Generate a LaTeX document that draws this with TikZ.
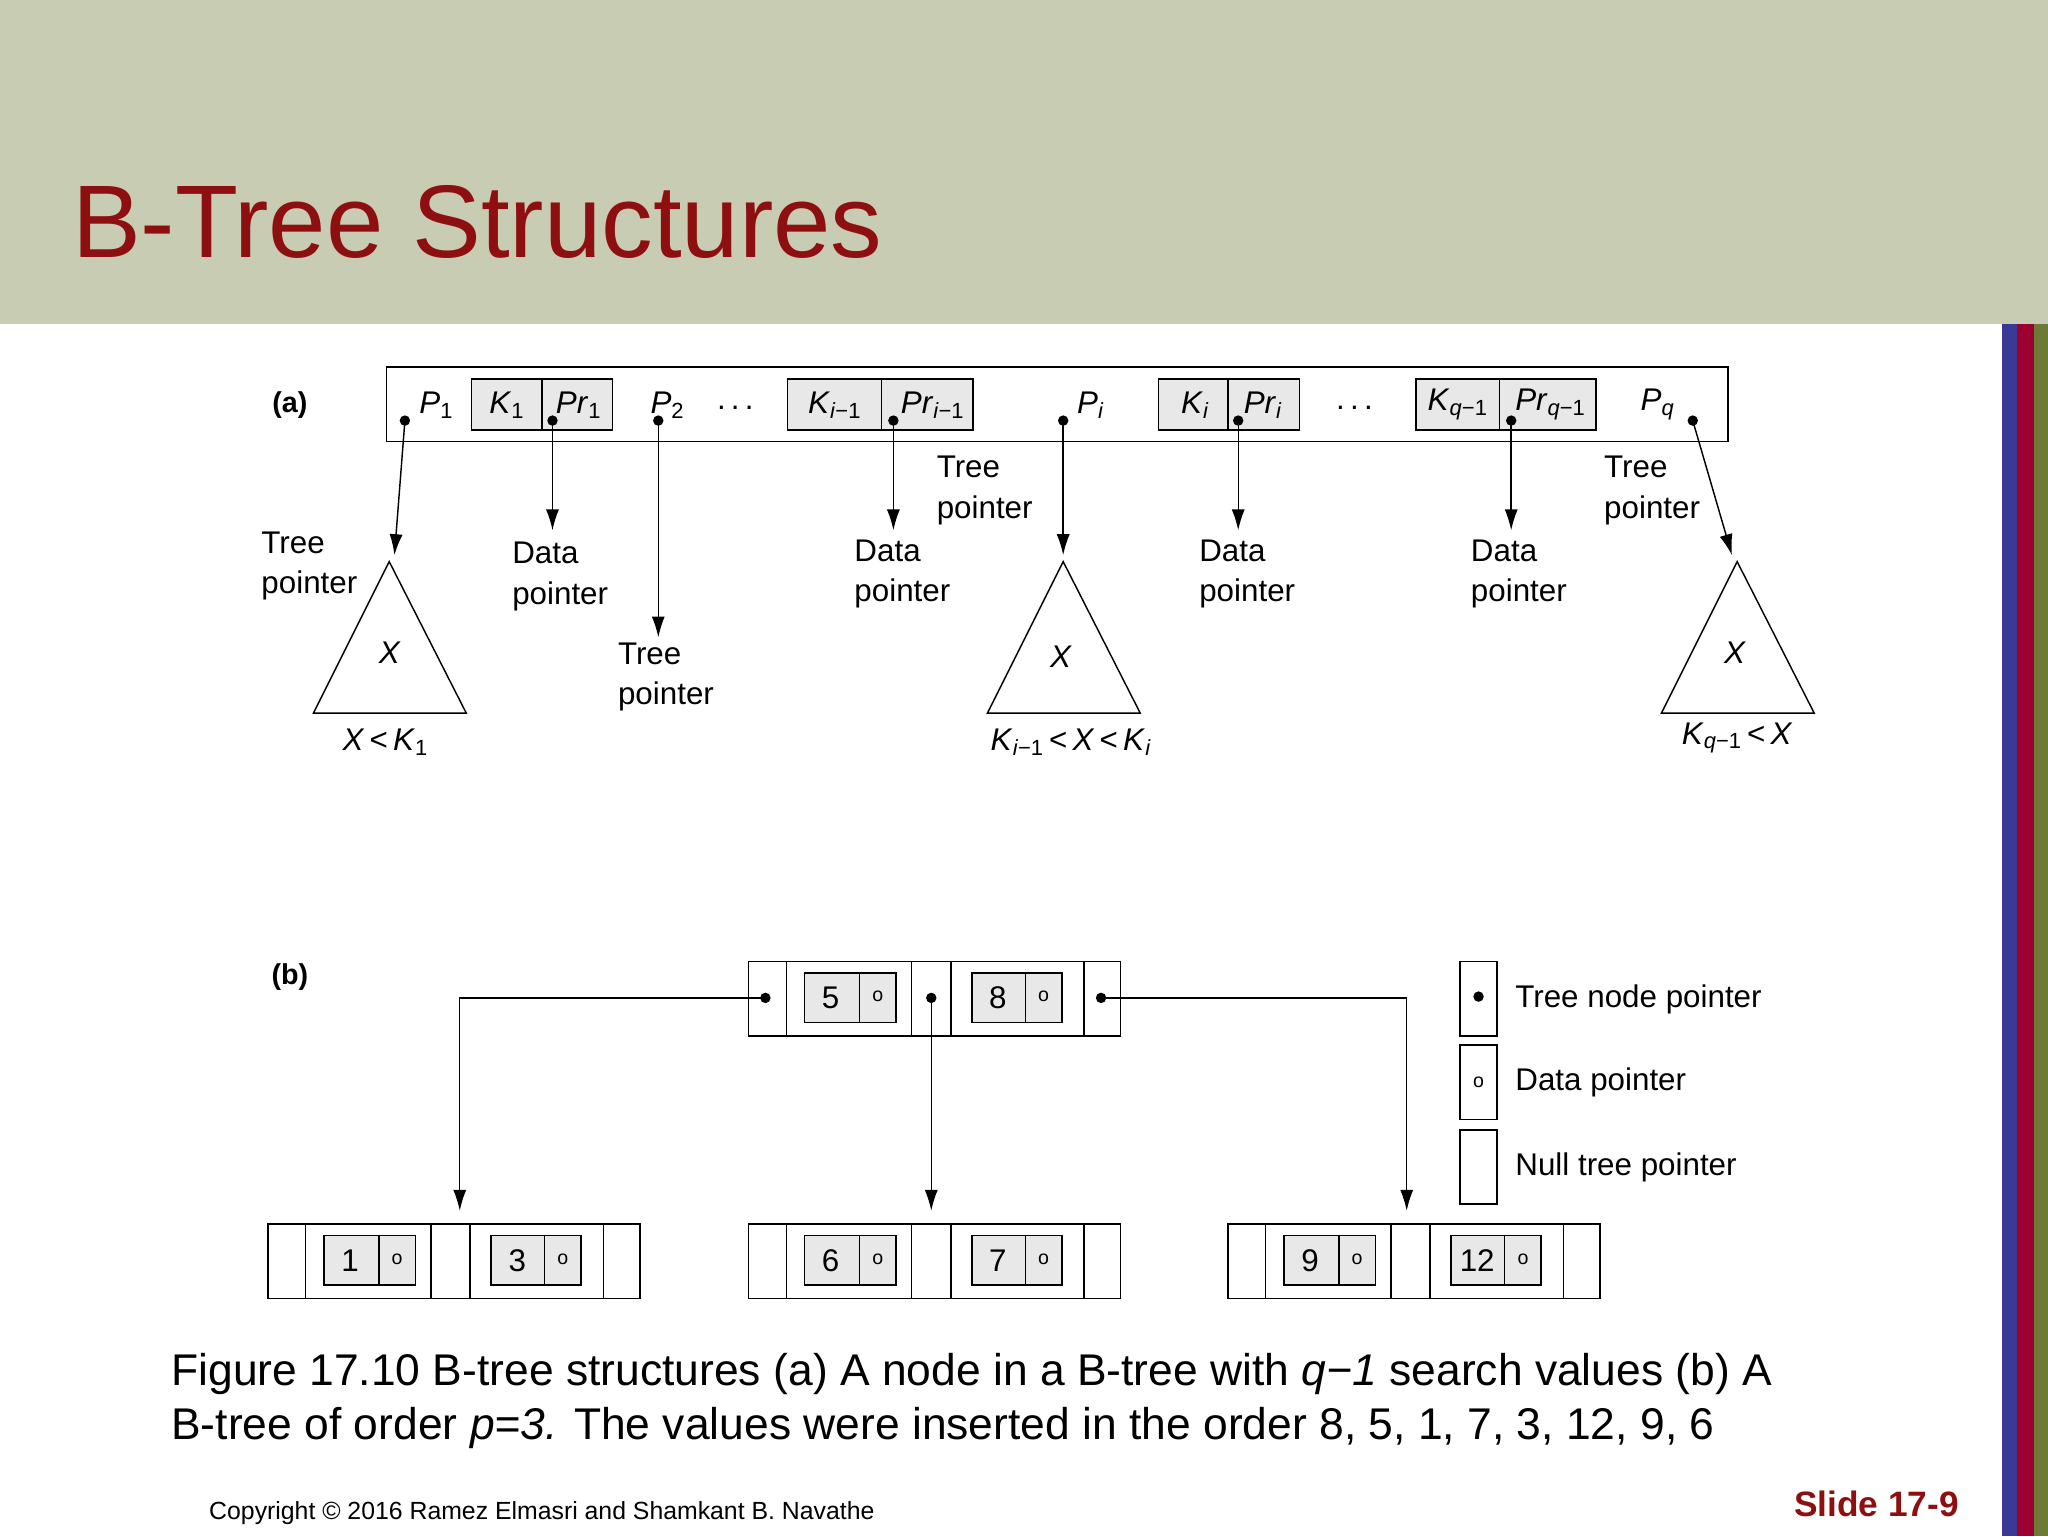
\documentclass[tikz,border=0pt]{standalone}
\usepackage{fontspec}
\setmainfont{Liberation Sans}
\usetikzlibrary{arrows.meta}
\definecolor{banner}{HTML}{C8CCB2}
\definecolor{dred}{HTML}{8E0F0F}
\definecolor{keyfill}{HTML}{E8E8E8}
\definecolor{barb}{HTML}{3A3A96}
\definecolor{barr}{HTML}{9B0030}
\definecolor{barg}{HTML}{6B7A35}
\newcommand{\ks}[2]{\textit{#1}\textsubscript{#2}}
\newcommand{\bnode}[5]{% x0 y0 k1 k2 name
  \draw[boxb] (#1,#2) rectangle (#1+285,#2+57);
  \foreach \d in {29,125,155,257} \draw[line width=1.2] (#1+\d,#2)--(#1+\d,#2+57);
  \draw[keyb] (#1+43,#2+9) rectangle (#1+113,#2+47); \draw[line width=1.2] (#1+85,#2+9)--(#1+85,#2+47);
  \draw[keyb] (#1+171,#2+9) rectangle (#1+240,#2+47); \draw[line width=1.2] (#1+212,#2+9)--(#1+212,#2+47);
  \node[big] (#5a) at (#1+63,#2+28) {#3};
  \node[big] (#5b) at (#1+191,#2+28) {#4};
  \node[font=\fontsize{15}{18}\selectfont,inner sep=0] (#5c) at (#1+99,#2+27) {o};
  \node[font=\fontsize{15}{18}\selectfont,inner sep=0] (#5d) at (#1+226,#2+27) {o};
}
\begin{document}
\begin{tikzpicture}[x=1pt,y=-1pt,
  lbl/.style={font=\fontsize{24}{31}\selectfont,align=left,anchor=north west,inner sep=0},
  big/.style={font=\fontsize{24}{28}\selectfont,inner sep=0},
  keyb/.style={draw,fill=keyfill,line width=1.2},
  boxb/.style={draw,line width=1.2},
  dotp/.style={circle,fill=black,inner sep=0,minimum size=8},
  arr/.style={line width=1.1,-{Latex[length=16,width=10]}}]
\useasboundingbox (0,0) rectangle (1568,1176);
\fill[banner] (0,0) rectangle (1568,248);
\fill[white] (0,248) rectangle (1533,1176);
\fill[barb] (1533,248) rectangle (1544,1176);
\fill[barr] (1544,248) rectangle (1557,1176);
\fill[barg] (1557,248) rectangle (1568,1176);
\node[anchor=base west,inner sep=0,text=dred,font=\fontsize{79}{90}\selectfont] (title) at (55,197) {B-Tree Structures};
% (a)
\node[font=\fontsize{22}{26}\selectfont\bfseries] (la) at (222,310) {(a)};
\draw[boxb] (296,281) rectangle (1323,338);
\foreach \a/\m/\b in {361/415/469,603/675/745,887/940/995,1084/1148/1222}{
  \draw[keyb] (\a,290) rectangle (\b,329); \draw[line width=1.2] (\m,290)--(\m,329);}
\node[big] (k1) at (388,310) {\ks{K}{1}};
\node[big] (pr1) at (443,310) {\ks{Pr}{1}};
\node[big] (ki1) at (639,310) {\ks{K}{\textit{i}−1}};
\node[big] (pri1) at (714,310) {\ks{Pr}{\textit{i}−1}};
\node[big] (ki) at (915,310) {\ks{K}{\textit{i}}};
\node[big] (pri) at (967,310) {\ks{Pr}{\textit{i}}};
\node[big] (kq) at (1116,310) {\ks{K}{\textit{q}−1}};
\node[big] (prq) at (1187,310) {\ks{Pr}{\textit{q}−1}};
\node[big] (p1) at (334,310) {\ks{P}{1}};
\node[big] (p2) at (511,310) {\ks{P}{2}};
\node[big] (pi) at (835,310) {\ks{P}{\textit{i}}};
\node[big] (pq) at (1269,310) {\ks{P}{\textit{q}}};
\node[big] (d1) at (563,312) {.\,.\,.};
\node[big] (d2) at (1037,312) {.\,.\,.};
\foreach \n/\x in {a1/310,a2/423,a3/504,a4/684,a5/814,a6/948,a7/1157,a8/1296}
  \node[dotp] (\n) at (\x,322) {};
\coordinate (t1) at (302,425); \coordinate (t2) at (423,406); \coordinate (t3) at (504,488);
\coordinate (t4) at (684,406); \coordinate (t5) at (814,425); \coordinate (t6) at (948,406);
\coordinate (t7) at (1157,406); \coordinate (t8) at (1326,425);
\foreach \i in {1,...,8} \draw[arr] (a\i.center) -- (t\i);
\foreach \x in {298,814,1330}
  \draw[line width=1.1] (\x,430) -- (\x-58,546) -- (\x+59,546) -- cycle;
\node[big,font=\fontsize{24}{28}\selectfont\itshape] (xa) at (298,500) {X};
\node[big,font=\fontsize{24}{28}\selectfont\itshape] (xb) at (812,503) {X};
\node[big,font=\fontsize{24}{28}\selectfont\itshape] (xc) at (1328,500) {X};
\node[big] (ca) at (295,568) {\textit{X}\,<\,\ks{K}{1}};
\node[big] (cb) at (820,568) {\ks{K}{\textit{i}−1}\,<\,\textit{X}\,<\,\ks{K}{\textit{i}}};
\node[big] (cc) at (1330,565) {\ks{K}{\textit{q}−1}\,<\,\textit{X}};
\node[lbl] (l1) at (200,407) {Tree\\pointer};
\node[lbl] (l2) at (392,415) {Data\\pointer};
\node[lbl] (l3) at (473,492) {Tree\\pointer};
\node[lbl] (l4) at (654,413) {Data\\pointer};
\node[lbl] (l5) at (717,349) {Tree\\pointer};
\node[lbl] (l6) at (918,413) {Data\\pointer};
\node[lbl] (l7) at (1126,413) {Data\\pointer};
\node[lbl] (l8) at (1228,349) {Tree\\pointer};
% (b)
\node[font=\fontsize{22}{26}\selectfont\bfseries] (lb) at (222,748) {(b)};
\bnode{573}{736}{5}{8}{r}
\bnode{205}{937}{1}{3}{la}
\bnode{573}{937}{6}{7}{lm}
\bnode{940}{937}{9}{12}{lr}
\node[dotp] (b1) at (586,764) {};
\node[dotp] (b2) at (713,764) {};
\node[dotp] (b3) at (843,764) {};
\coordinate (e1) at (352,927); \coordinate (e2) at (713,927); \coordinate (e3) at (1077,927);
\draw[arr] (b1.center) -| (e1);
\draw[arr] (b2.center) -- (e2);
\draw[arr] (b3.center) -| (e3);
\draw[boxb] (1118,736) rectangle (1146,793);
\draw[boxb] (1118,800) rectangle (1146,857);
\draw[boxb] (1118,865) rectangle (1146,922);
\node[dotp] (g1) at (1132,763) {};
\node[font=\fontsize{15}{18}\selectfont,inner sep=0] (g2) at (1132,829) {o};
\node[lbl,anchor=west] (t_a) at (1160,765) {Tree node pointer};
\node[lbl,anchor=west] (t_b) at (1160,829) {Data pointer};
\node[lbl,anchor=west] (t_c) at (1160,894) {Null tree pointer};
% caption
\node[anchor=base west,inner sep=0,align=left,font=\fontsize{34}{41}\selectfont] (cap) at (131,1102)
 {Figure 17.10 B-tree structures (a) A node in a B-tree with \textit{q−1} search values (b) A\\
  B-tree of order \textit{p=3.} The values were inserted in the order 8, 5, 1, 7, 3, 12, 9, 6};
\node[anchor=base west,inner sep=0,font=\fontsize{19}{22}\selectfont] (copy) at (160,1163) {Copyright © 2016 Ramez Elmasri and Shamkant B. Navathe};
\node[anchor=base east,inner sep=0,text=dred,font=\fontsize{27}{30}\selectfont\bfseries] (slide) at (1500,1161) {Slide 17-9};
\end{tikzpicture}
\end{document}
